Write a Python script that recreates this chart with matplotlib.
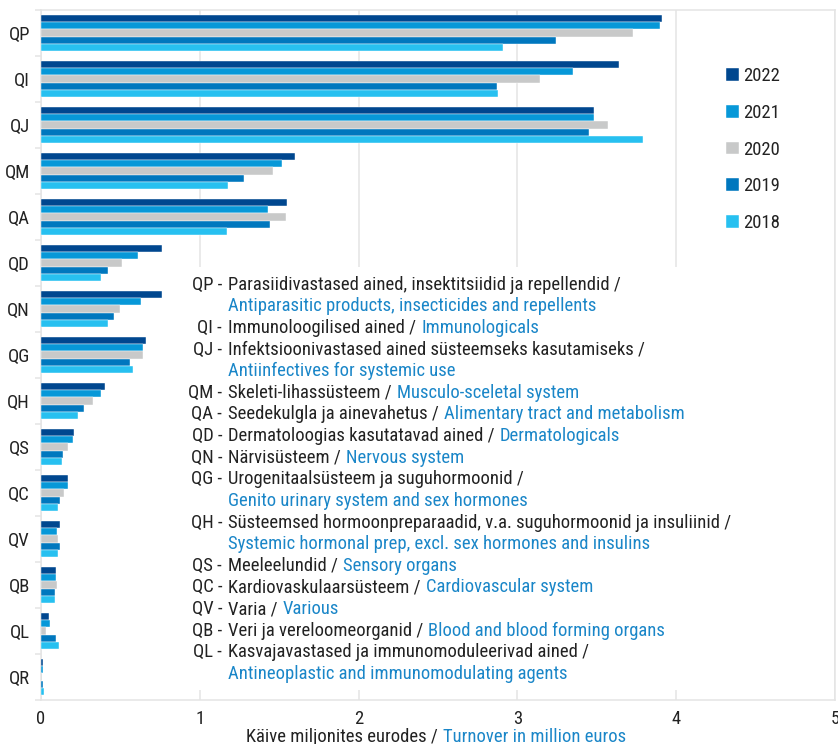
import numpy as np
import matplotlib
matplotlib.use("Agg")
import matplotlib.pyplot as plt
from matplotlib.patches import Rectangle

plt.rcParams['font.family'] = ['Roboto Condensed', 'Roboto', 'DejaVu Sans']

# categories, top to bottom
codes = ["QP", "QI", "QJ", "QM", "QA", "QD", "QN", "QG", "QH", "QS", "QC", "QV", "QB", "QL", "QR"]
years = ["2022", "2021", "2020", "2019", "2018"]

# turnover, million euros
v2022 = [3.91, 3.64, 3.48, 1.60, 1.55, 0.76, 0.76, 0.66, 0.40, 0.21, 0.17, 0.12, 0.094, 0.05, 0.012]
v2021 = [3.90, 3.35, 3.48, 1.52, 1.43, 0.61, 0.63, 0.64, 0.38, 0.20, 0.17, 0.10, 0.094, 0.057, 0.010]
v2020 = [3.73, 3.14, 3.57, 1.46, 1.54, 0.51, 0.50, 0.64, 0.33, 0.17, 0.145, 0.11, 0.10, 0.033, 0.005]
v2019 = [3.24, 2.87, 3.45, 1.28, 1.44, 0.42, 0.46, 0.56, 0.27, 0.14, 0.12, 0.12, 0.09, 0.096, 0.010]
v2018 = [2.91, 2.88, 3.79, 1.18, 1.17, 0.38, 0.42, 0.58, 0.23, 0.13, 0.11, 0.11, 0.09, 0.115, 0.020]
series = [v2022, v2021, v2020, v2019, v2018]
colors = ["#00478f", "#0798d8", "#c8c9c9", "#0077be", "#27c0f0"]

# explanation text: code, estonian, english, english on its own line?
legend_lines = [
    ("QP", "Parasiidivastased ained, insektitsiidid ja repellendid /", "Antiparasitic products, insecticides and repellents", True),
    ("QI", "Immunoloogilised ained /", "Immunologicals", False),
    ("QJ", "Infektsioonivastased ained süsteemseks kasutamiseks /", "Antiinfectives for systemic use", True),
    ("QM", "Skeleti-lihassüsteem /", "Musculo-sceletal system", False),
    ("QA", "Seedekulgla ja ainevahetus /", "Alimentary tract and metabolism", False),
    ("QD", "Dermatoloogias kasutatavad ained /", "Dermatologicals", False),
    ("QN", "Närvisüsteem /", "Nervous system", False),
    ("QG", "Urogenitaalsüsteem ja suguhormoonid /", "Genito urinary system and sex hormones", True),
    ("QH", "Süsteemsed hormoonpreparaadid, v.a. suguhormoonid ja insuliinid /", "Systemic hormonal prep, excl. sex hormones and insulins", True),
    ("QS", "Meeleelundid /", "Sensory organs", False),
    ("QC", "Kardiovaskulaarsüsteem /", "Cardiovascular system", False),
    ("QV", "Varia /", "Various", False),
    ("QB", "Veri ja vereloomeorganid /", "Blood and blood forming organs", False),
    ("QL", "Kasvajavastased ja immunomoduleerivad ained /", "Antineoplastic and immunomodulating agents", True),
]

BLACK = "#222222"
BLUE = "#1a86c8"
GRID = "#e4e4e4"
FS = 13.4

W, H = 838, 744
fig = plt.figure(figsize=(W / 100, H / 100), dpi=100)
ax = fig.add_axes([41 / W, 1 - 700 / H, 794 / W, 690 / H])

y = np.arange(len(codes))
bh = 0.16
for k, (vals, c, lab) in enumerate(zip(series, colors, years)):
    ax.barh(y + (k - 2) * bh, vals, height=bh, color=c, label=lab, zorder=3,
            edgecolor="white", linewidth=0.3)

ax.set_xlim(0, 5)
ax.set_ylim(len(codes) - 0.5, -0.5)
ax.set_xticks(range(6))
ax.set_yticks(y)
ax.set_yticklabels(codes)
ax.set_yticks(np.arange(-0.5, len(codes), 1), minor=True)
ax.tick_params(axis="y", which="major", length=0, pad=8, labelsize=FS, labelcolor=BLACK)
ax.tick_params(axis="y", which="minor", length=4.5, width=1.1, color=GRID)
ax.tick_params(axis="x", length=0, pad=7.3, labelsize=FS, labelcolor=BLACK)
ax.grid(axis="x", color=GRID, linewidth=1.1)
ax.set_axisbelow(True)
for s in ax.spines.values():
    s.set_color(GRID)
    s.set_linewidth(1.1)

# white panel behind the explanation text
ax.add_patch(Rectangle((0.181, 0.0145), 0.787, 0.613, transform=ax.transAxes,
                       facecolor="white", edgecolor="none", zorder=1))

# year legend
leg = ax.legend(loc="upper left", bbox_to_anchor=(726 / W, 1 - 67 / H), bbox_transform=fig.transFigure,
                frameon=False, fontsize=FS, handlelength=0.68, handleheight=0.68, handletextpad=0.25,
                labelspacing=1.01, borderpad=0, borderaxespad=0)
for t in leg.get_texts():
    t.set_color(BLACK)

# explanation text
xc, xd = 222 / W, 228 / W
shared = []
line = 0
for code, est, eng, wrap in legend_lines:
    yb = 1 - (289.6 + 21.63 * line) / H
    fig.text(xc, yb, code + " -", ha="right", va="baseline", fontsize=FS, color=BLACK)
    t = fig.text(xd, yb, est, ha="left", va="baseline", fontsize=FS, color=BLACK)
    if wrap:
        line += 1
        yb = 1 - (289.6 + 21.63 * line) / H
        fig.text(xd, yb, eng, ha="left", va="baseline", fontsize=FS, color=BLUE)
    else:
        shared.append((t, eng, yb))
    line += 1

# english part right after the estonian text on shared lines
fig.canvas.draw()
r = fig.canvas.get_renderer()
for t, eng, yb in shared:
    bb = t.get_window_extent(r)
    fig.text((bb.x1 + 5) / W, yb, eng, ha="left", va="baseline", fontsize=FS, color=BLUE)

# x axis title
fig.text(438 / W, 1 - 741.5 / H, "Käive miljonites eurodes /", ha="right", va="baseline",
         fontsize=FS, color=BLACK)
fig.text(443 / W, 1 - 741.5 / H, "Turnover in million euros", ha="left", va="baseline",
         fontsize=FS, color=BLUE)

fig.savefig("out.png", dpi=100)
